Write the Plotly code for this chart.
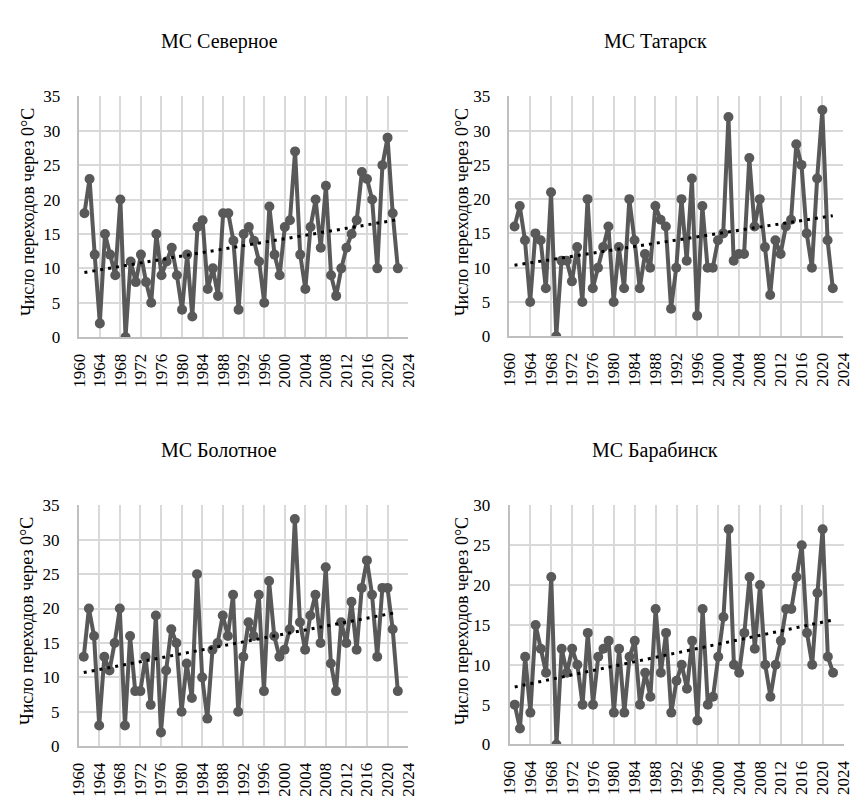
import numpy as np
import plotly.graph_objects as go

years = list(range(1961, 2023))

severnoe = [18, 23, 12, 2, 15, 12, 9, 20, 0, 11, 8, 12, 8, 5, 15, 9, 11, 13, 9, 4,
            12, 3, 16, 17, 7, 10, 6, 18, 18, 14, 4, 15, 16, 14, 11, 5, 19, 12, 9, 16,
            17, 27, 12, 7, 16, 20, 13, 22, 9, 6, 10, 13, 15, 17, 24, 23, 20, 10, 25, 29,
            18, 10]
tatarsk = [16, 19, 14, 5, 15, 14, 7, 21, 0, 11, 11, 8, 13, 5, 20, 7, 10, 13, 16, 5,
           13, 7, 20, 14, 7, 12, 10, 19, 17, 16, 4, 10, 20, 11, 23, 3, 19, 10, 10, 14,
           15, 32, 11, 12, 12, 26, 16, 20, 13, 6, 14, 12, 16, 17, 28, 25, 15, 10, 23, 33,
           14, 7]
bolotnoe = [13, 20, 16, 3, 13, 11, 15, 20, 3, 16, 8, 8, 13, 6, 19, 2, 11, 17, 15, 5,
            12, 7, 25, 10, 4, 14, 15, 19, 16, 22, 5, 13, 18, 16, 22, 8, 24, 16, 13, 14,
            17, 33, 18, 14, 19, 22, 15, 26, 12, 8, 18, 15, 21, 14, 23, 27, 22, 13, 23, 23,
            17, 8]
barabinsk = [5, 2, 11, 4, 15, 12, 9, 21, 0, 12, 9, 12, 10, 5, 14, 5, 11, 12, 13, 4,
             12, 4, 11, 13, 5, 9, 6, 17, 9, 14, 4, 8, 10, 7, 13, 3, 17, 5, 6, 11,
             16, 27, 10, 9, 14, 21, 12, 20, 10, 6, 10, 13, 17, 17, 21, 25, 14, 10, 19, 27,
             11, 9]

titles = ["МС Северное", "МС Татарск", "МС Болотное", "МС Барабинск"]
series = [severnoe, tatarsk, bolotnoe, barabinsk]
y_max = [35, 35, 35, 30]
y_title = "Число переходов через 0°С"

# the page body has an 8px margin, so the figure is drawn 8px smaller and offset
OFF = 8
W, H = 863 - OFF, 803 - OFF
# panel geometry in page pixels: (x_left, x_right, y_top, y_bottom)
panels = [
    (71.7, 408.0, 89.3, 336.0),
    (511.5, 853.0, 89.3, 335.0),
    (71.0, 408.0, 508.3, 755.0),
    (511.7, 853.3, 508.3, 753.3),
]
title_pos = [(215, 33), (661, 33), (215, 452), (661, 452)]
ytitle_pos = [(19, 208), (463, 208), (18, 627), (463, 627)]

LINE = "#595959"
GRID = "#d9d9d9"
FONT = "Liberation Serif, Times New Roman, serif"


def px(x):
    return (x - OFF) / W


def py(y):
    return 1 - (y - OFF) / H


fig = go.Figure()
annotations = []
for i, (vals, ttl, ymax) in enumerate(zip(series, titles, y_max)):
    ax = "" if i == 0 else str(i + 1)
    fig.add_trace(go.Scatter(
        x=years, y=vals, mode="lines+markers",
        line=dict(color=LINE, width=4),
        marker=dict(color=LINE, size=10),
        xaxis="x" + ax, yaxis="y" + ax, showlegend=False,
    ))
    k, b = np.polyfit(years, vals, 1)
    tx = [years[0], years[-1]]
    fig.add_trace(go.Scatter(
        x=tx, y=[k * t + b for t in tx], mode="lines",
        line=dict(color="black", width=3, dash="3px,5px"),
        xaxis="x" + ax, yaxis="y" + ax, showlegend=False,
    ))
    xl, xr, yt, yb = panels[i]
    xdom = [px(xl), px(xr)]
    ydom = [py(yb), py(yt)]
    common = dict(showgrid=True, gridcolor=GRID, gridwidth=1.5,
                  showline=True, linecolor="#bfbfbf", linewidth=1.5,
                  zeroline=False, ticks="",
                  tickfont=dict(family=FONT, size=17, color="#000000"))
    fig.update_layout(**{
        "xaxis" + ax: dict(domain=xdom, range=[1960, 2024], tick0=1960, dtick=4,
                           tickangle=-90, anchor="y" + ax, ticklabelstandoff=8,
                           **common),
        "yaxis" + ax: dict(domain=ydom, range=[0, ymax], tick0=0, dtick=5,
                           anchor="x" + ax, ticklabelstandoff=14, **common),
    })
    tx_, ty_ = title_pos[i]
    annotations.append(dict(text=ttl, x=px(tx_), y=py(ty_), xref="paper", yref="paper",
                            showarrow=False, xanchor="center", yanchor="middle",
                            font=dict(family=FONT, size=20, color="#000000")))
    ax_, ay_ = ytitle_pos[i]
    annotations.append(dict(text=y_title, x=px(ax_), y=py(ay_), xref="paper", yref="paper",
                            showarrow=False, xanchor="center", yanchor="middle", textangle=-90,
                            font=dict(family=FONT, size=18, color="#000000")))

fig.update_layout(width=W, height=H, margin=dict(l=0, r=0, t=0, b=0),
                  paper_bgcolor="white", plot_bgcolor="white",
                  annotations=annotations)
fig.write_html("out.html")
